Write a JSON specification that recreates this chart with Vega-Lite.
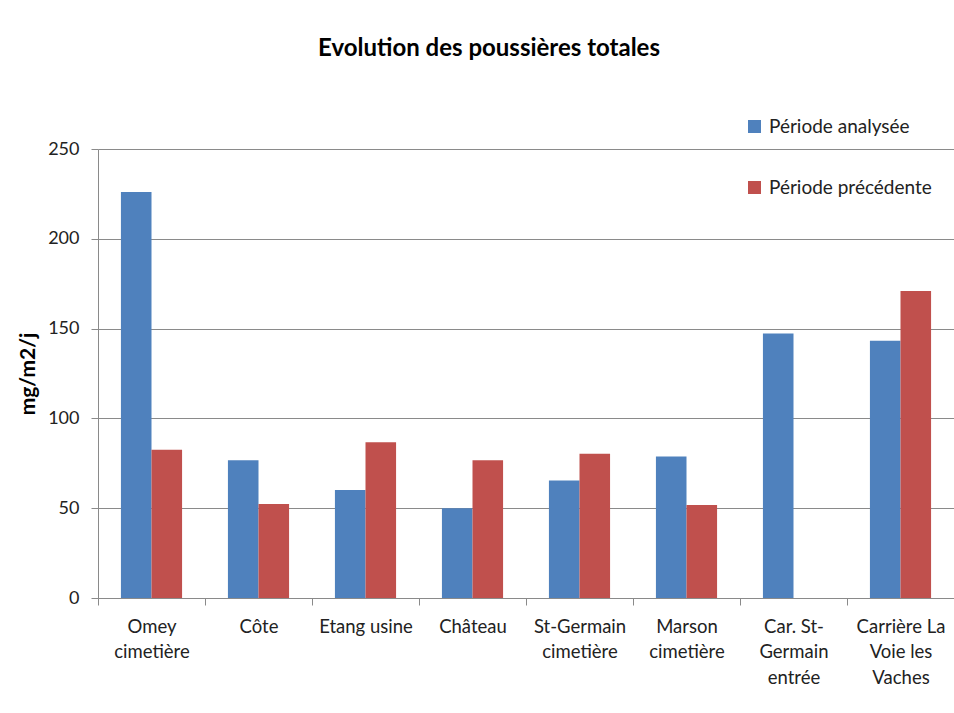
{
  "$schema": "https://vega.github.io/schema/vega-lite/v6.json",
  "width": 856,
  "height": 449,
  "padding": {"left": 17, "top": 37, "right": 0, "bottom": 0},
  "background": "white",
  "config": {
    "font": "Lato",
    "view": {"stroke": null},
    "axis": {"labelFont": "Lato", "titleFont": "Lato", "labelColor": "#222222", "titleColor": "#000000"}
  },
  "title": {
    "text": "Evolution des poussières totales",
    "font": "Lato",
    "fontSize": 24,
    "fontWeight": "bold",
    "color": "#000000",
    "anchor": "middle",
    "dx": -37,
    "offset": 56
  },
  "data": {
    "values": [
      {"site": "Omey\ncimetière", "periode": "Période analysée", "valeur": 226},
      {"site": "Omey\ncimetière", "periode": "Période précédente", "valeur": 82.5},
      {"site": "Côte", "periode": "Période analysée", "valeur": 76.7},
      {"site": "Côte", "periode": "Période précédente", "valeur": 52.4},
      {"site": "Etang usine", "periode": "Période analysée", "valeur": 60.2},
      {"site": "Etang usine", "periode": "Période précédente", "valeur": 86.7},
      {"site": "Château", "periode": "Période analysée", "valeur": 50},
      {"site": "Château", "periode": "Période précédente", "valeur": 76.7},
      {"site": "St-Germain\ncimetière", "periode": "Période analysée", "valeur": 65.4},
      {"site": "St-Germain\ncimetière", "periode": "Période précédente", "valeur": 80.3},
      {"site": "Marson\ncimetière", "periode": "Période analysée", "valeur": 78.8},
      {"site": "Marson\ncimetière", "periode": "Période précédente", "valeur": 51.8},
      {"site": "Car. St-\nGermain\nentrée", "periode": "Période analysée", "valeur": 147.3},
      {"site": "Carrière La\nVoie les\nVaches", "periode": "Période analysée", "valeur": 143.3},
      {"site": "Carrière La\nVoie les\nVaches", "periode": "Période précédente", "valeur": 170.9}
    ]
  },
  "mark": {"type": "bar"},
  "encoding": {
    "x": {
      "field": "site",
      "type": "nominal",
      "sort": ["Omey\ncimetière", "Côte", "Etang usine", "Château", "St-Germain\ncimetière", "Marson\ncimetière", "Car. St-\nGermain\nentrée", "Carrière La\nVoie les\nVaches"],
      "scale": {"paddingInner": 0, "paddingOuter": 0},
      "axis": {
        "title": null,
        "labelAngle": 0,
        "labelFontSize": 18.5,
        "labelLineHeight": 25.5,
        "labelPadding": 12,
        "labelBaseline": "top",
        "labelExpr": "split(datum.label, '\\n')",
        "tickBand": "extent",
        "tickSize": 7,
        "tickColor": "#8a8a8a",
        "domainColor": "#8a8a8a",
        "labelLimit": 200
      }
    },
    "xOffset": {
      "field": "periode",
      "type": "nominal",
      "scale": {"paddingInner": 0, "paddingOuter": 0.75}
    },
    "y": {
      "field": "valeur",
      "type": "quantitative",
      "scale": {"domain": [0, 250]},
      "axis": {
        "title": "mg/m2/j",
        "titleFontSize": 21,
        "titleFontWeight": "bold",
        "titlePadding": 9,
        "values": [0, 50, 100, 150, 200, 250],
        "labelFontSize": 18,
        "labelPadding": 12,
        "tickSize": 7,
        "tickColor": "#8a8a8a",
        "domainColor": "#8a8a8a",
        "gridColor": "#8a8a8a",
        "gridWidth": 1.2,
        "grid": true
      }
    },
    "color": {
      "field": "periode",
      "type": "nominal",
      "scale": {"domain": ["Période analysée", "Période précédente"], "range": ["#4F81BD", "#C0504D"]},
      "legend": {
        "title": null,
        "orient": "none",
        "legendX": 647,
        "legendY": -32,
        "symbolType": "square",
        "symbolSize": 169,
        "symbolStrokeWidth": 0,
        "labelFontSize": 19,
        "labelColor": "#222222",
        "labelOffset": 5,
        "rowPadding": 41,
        "labelLimit": 300
      }
    }
  }
}
